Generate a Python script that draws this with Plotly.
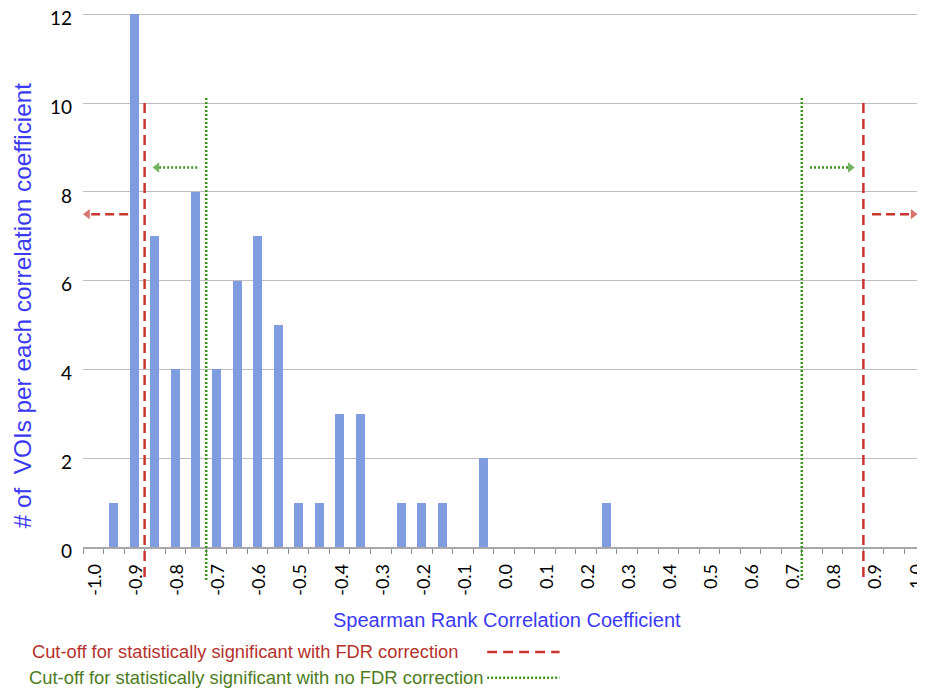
import plotly.graph_objects as go

# ---- data ----
coef_bins = [-0.95, -0.90, -0.85, -0.80, -0.75, -0.70, -0.65, -0.60, -0.55,
             -0.50, -0.45, -0.40, -0.35, -0.25, -0.20, -0.15, -0.05, 0.25]
voi_counts = [1, 12, 7, 4, 8, 4, 6, 7, 5, 1, 1, 3, 3, 1, 1, 1, 2, 1]

tick_values = [-1.0, -0.9, -0.8, -0.7, -0.6, -0.5, -0.4, -0.3, -0.2, -0.1, 0.0,
               0.1, 0.2, 0.3, 0.4, 0.5, 0.6, 0.7, 0.8, 0.9, 1.0]
tick_labels = ["-1.0", "-0.9", "-0.8", "-0.7", "-0.6", "-0.5", "-0.4", "-0.3", "-0.2", "-0.1",
               "0.0", "0.1", "0.2", "0.3", "0.4", "0.5", "0.6", "0.7", "0.8", "0.9", "1.0"]
y_tick_values = [0, 2, 4, 6, 8, 10, 12]

fdr_cutoffs = [-0.875, 0.875]
nofdr_cutoffs = [-0.725, 0.725]

# arrows: (start, tip, level)
fdr_arrows = [(-0.915, -1.014, 7.5), (0.896, 0.996, 7.5)]
nofdr_arrows = [(-0.747, -0.845, 8.55), (0.745, 0.843, 8.55)]

RED = "#c8372f"
GREEN = "#3f9424"
BLUE_TXT = "#3a3af5"

fig = go.Figure()

fig.add_trace(go.Bar(
    x=coef_bins, y=voi_counts, width=0.022,
    marker=dict(color="#7f9ce1", line=dict(width=0)),
    showlegend=False, hoverinfo="x+y",
))

for (x0, x1, yv) in fdr_arrows:
    fig.add_trace(go.Scatter(
        x=[x0, x1], y=[yv, yv], mode="lines+markers",
        line=dict(color=RED, width=2.5, dash="9px,5px"),
        marker=dict(symbol=["circle", "triangle-left" if x1 < x0 else "triangle-right"],
                    size=[0, 9], color=RED, line=dict(width=0)),
        cliponaxis=False, showlegend=False, hoverinfo="skip",
    ))
for (x0, x1, yv) in nofdr_arrows:
    fig.add_trace(go.Scatter(
        x=[x0, x1], y=[yv, yv], mode="lines+markers",
        line=dict(color=GREEN, width=2.5, dash="2px,2px"),
        marker=dict(symbol=["circle", "triangle-left" if x1 < x0 else "triangle-right"],
                    size=[0, 9], color=GREEN, line=dict(width=0)),
        cliponaxis=False, showlegend=False, hoverinfo="skip",
    ))

shapes = []
for c in fdr_cutoffs:
    shapes.append(dict(type="line", xref="x", yref="paper", x0=c, x1=c, y0=-0.0558, y1=0.836,
                       line=dict(color=RED, width=2.5, dash="10px,6px")))
for c in nofdr_cutoffs:
    shapes.append(dict(type="line", xref="x", yref="paper", x0=c, x1=c, y0=-0.0614, y1=0.838,
                       line=dict(color=GREEN, width=2.5, dash="2px,2px")))
# legend samples
shapes.append(dict(type="line", xref="paper", yref="paper", x0=0.48, x1=0.566, y0=-0.1954, y1=-0.1954,
                   line=dict(color=RED, width=2.5, dash="10px,6px")))
shapes.append(dict(type="line", xref="paper", yref="paper", x0=0.48, x1=0.566, y0=-0.2437, y1=-0.2437,
                   line=dict(color=GREEN, width=2.5, dash="2px,2px")))

annotations = [
    dict(text="Spearman Rank Correlation Coefficient", xref="paper", yref="paper",
         x=0.5036, y=-0.1358, xanchor="center", yanchor="middle", showarrow=False,
         font=dict(family="Liberation Sans, Arial", size=20, color=BLUE_TXT)),
    dict(text="# of  VOIs per each correlation coefficient", xref="paper", yref="paper",
         x=-0.0724, y=0.4484, xanchor="center", yanchor="middle", textangle=-90, showarrow=False,
         font=dict(family="Liberation Sans, Arial", size=24.3, color=BLUE_TXT)),
    dict(text="Cut-off for statistically significant with FDR correction", xref="paper", yref="paper",
         x=-0.063, y=-0.1954, xanchor="left", yanchor="middle", showarrow=False,
         font=dict(family="Liberation Sans, Arial", size=18.3, color="#b5322c")),
    dict(text="Cut-off for statistically significant with no FDR correction", xref="paper", yref="paper",
         x=-0.066, y=-0.2437, xanchor="left", yanchor="middle", showarrow=False,
         font=dict(family="Liberation Sans, Arial", size=18.4, color="#4d7c22")),
]

# page body has an 8px margin, so the figure is 8px smaller and margins shifted
fig.update_layout(
    width=917, height=683,
    margin=dict(l=75, r=0, t=1.56, b=144, autoexpand=False),
    paper_bgcolor="white", plot_bgcolor="white",
    shapes=shapes, annotations=annotations,
    bargap=0,
    xaxis=dict(
        range=[-1.025, 1.025], tickmode="array", tickvals=tick_values, ticktext=tick_labels,
        tickangle=-90, ticks="", showgrid=False, zeroline=False, automargin=False,
        showline=True, linecolor="#a8a8a8", linewidth=1.5,
        tickfont=dict(family="Lato", size=18, color="black"),
        ticklabelstandoff=8, ticklabeloverflow="allow", ticklabelshift=2,
        minor=dict(tick0=-1.025, dtick=0.05, ticks="outside", ticklen=5, tickcolor="#8c8c8c",
                   tickwidth=1.2, showgrid=False),
    ),
    yaxis=dict(
        range=[0, 12.1], tickmode="array", tickvals=y_tick_values,
        showgrid=True, gridcolor="#bdbdbd", gridwidth=1.3,
        zeroline=False, showline=False, ticks="", automargin=False,
        tickfont=dict(family="Lato", size=19, color="black"),
        ticklabelstandoff=10, ticklabeloverflow="allow", ticklabelshift=4,
    ),
)

fig.write_html("out.html")
